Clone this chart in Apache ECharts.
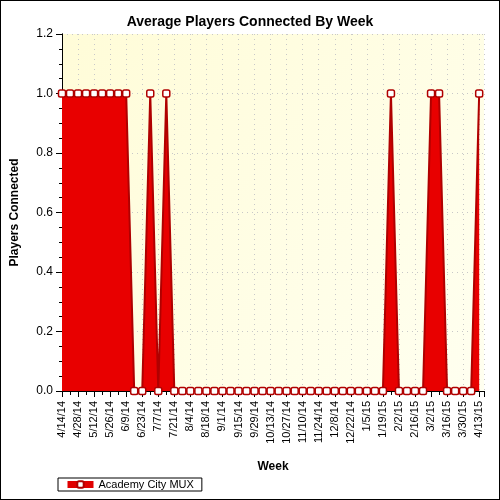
<!DOCTYPE html>
<html>
<head>
<meta charset="utf-8">
<script src="https://cdn.jsdelivr.net/npm/echarts@6/dist/echarts.min.js"></script>
<style>
  html, body { margin: 0; padding: 0; background: #fff; }
  #chart { width: 498px; height: 498px; border: 1px solid #000; }
</style>
</head>
<body>
<div id="chart"></div>
<script>
// weekly labels, 4/14/14 .. 4/13/15
const weeks = [
  '4/14/14', '4/21/14', '4/28/14', '5/5/14', '5/12/14', '5/19/14', '5/26/14', '6/2/14', '6/9/14',
  '6/16/14', '6/23/14', '6/30/14', '7/7/14', '7/14/14', '7/21/14', '7/28/14', '8/4/14', '8/11/14',
  '8/18/14', '8/25/14', '9/1/14', '9/8/14', '9/15/14', '9/22/14', '9/29/14', '10/6/14', '10/13/14',
  '10/20/14', '10/27/14', '11/3/14', '11/10/14', '11/17/14', '11/24/14', '12/1/14', '12/8/14',
  '12/15/14', '12/22/14', '12/29/14', '1/5/15', '1/12/15', '1/19/15', '1/26/15', '2/2/15', '2/9/15',
  '2/16/15', '2/23/15', '3/2/15', '3/9/15', '3/16/15', '3/23/15', '3/30/15', '4/6/15', '4/13/15'
]
const players = [
  1, 1, 1, 1, 1, 1, 1, 1, 1,
  0, 0, 1, 0, 1, 0, 0, 0, 0,
  0, 0, 0, 0, 0, 0, 0, 0, 0,
  0, 0, 0, 0, 0, 0, 0, 0,
  0, 0, 0, 0, 0, 0, 1, 0, 0,
  0, 0, 1, 1, 0, 0, 0, 0, 1
]
const yTicks = [0, 0.2, 0.4, 0.6, 0.8, 1.0, 1.2]

const font = 'Liberation Sans, Arial, sans-serif'
const chart = echarts.init(document.getElementById('chart'))

chart.setOption({
  animation: false,
  backgroundColor: '#fff',
  title: {
    text: 'Average Players Connected By Week',
    left: 'center',
    top: 9,
    textStyle: { fontFamily: font, fontSize: 14, fontWeight: 'bold', color: '#000' }
  },
  legend: {
    left: 57,
    top: 477,
    padding: [1, 8, 1, 6],
    itemGap: 5,
    itemWidth: 26,
    itemHeight: 8,
    borderColor: '#000',
    borderWidth: 1,
    borderRadius: 0,
    lineStyle: { color: '#e00000', width: 7 },
    textStyle: { fontFamily: font, fontSize: 11, color: '#000' },
    data: ['Academy City MUX']
  },
  grid: {
    left: 60, right: 15, top: 33, bottom: 108,
    show: true,
    borderWidth: 0,
    backgroundColor: new echarts.graphic.LinearGradient(0, 0, 1, 1, [
      { offset: 0, color: '#fffcd8' },
      { offset: 1, color: '#fffff0' }
    ])
  },
  xAxis: [
    {
      type: 'value',
      min: 0,
      max: 52.6,
      interval: 2,
      name: 'Week',
      nameLocation: 'middle',
      nameGap: 70,
      nameTextStyle: { fontFamily: font, fontSize: 12, fontWeight: 'bold', color: '#000' },
      axisLine: { onZero: false, lineStyle: { color: '#000', width: 1 } },
      axisTick: { length: 6, lineStyle: { color: '#000' } },
      minorTick: { show: true, splitNumber: 2, length: 3, lineStyle: { color: '#000' } },
      axisLabel: {
        rotate: 90,
        margin: 10,
        fontFamily: font,
        fontSize: 11,
        color: '#000',
        showMaxLabel: false,
        formatter: (v) => (Number.isInteger(v) ? weeks[v] : '')
      },
      splitLine: { show: true, lineStyle: { color: '#c8c8c8', type: [1, 4] } }
    },
    {
      type: 'value',
      position: 'top',
      min: 0,
      max: 52.6,
      interval: 1,
      axisLine: { lineStyle: { color: '#000', width: 1 } },
      axisTick: { inside: true, length: 4, lineStyle: { color: '#000' } },
      axisLabel: { show: false },
      splitLine: { show: false }
    }
  ],
  yAxis: [
    {
      type: 'value',
      min: 0,
      max: 1.2,
      interval: 0.2,
      name: 'Players Connected',
      nameLocation: 'middle',
      nameGap: 41,
      nameTextStyle: { fontFamily: font, fontSize: 12, fontWeight: 'bold', color: '#000' },
      axisLine: { show: true, lineStyle: { color: '#000', width: 1 } },
      axisTick: { show: true, length: 6, lineStyle: { color: '#000' } },
      minorTick: { show: true, splitNumber: 4, length: 3, lineStyle: { color: '#000' } },
      axisLabel: {
        fontFamily: font,
        fontSize: 12,
        color: '#000',
        margin: 9,
        formatter: (v) => yTicks.find((t) => Math.abs(t - v) < 1e-6).toFixed(1)
      },
      splitLine: { show: true, lineStyle: { color: '#c8c8c8', type: [1, 4] } }
    },
    {
      type: 'value',
      position: 'right',
      min: 0,
      max: 1.2,
      interval: 0.2,
      axisLine: { show: true, lineStyle: { color: '#000', width: 1 } },
      axisTick: { show: true, inside: true, length: 5, lineStyle: { color: '#000' } },
      minorTick: { show: true, splitNumber: 4, length: 3, lineStyle: { color: '#000' } },
      axisLabel: { show: false },
      splitLine: { show: false }
    }
  ],
  series: [
    {
      name: 'Academy City MUX',
      type: 'line',
      xAxisIndex: 0,
      yAxisIndex: 0,
      data: players.map((v, i) => [i, v]),
      symbol: 'roundRect',
      symbolSize: 7,
      showAllSymbol: true,
      clip: true,
      lineStyle: { color: '#b00000', width: 2 },
      itemStyle: { color: '#ffffff', borderColor: '#b00000', borderWidth: 1.5 },
      areaStyle: { color: '#e80000', opacity: 1 },
      z: 3
    }
  ]
})
</script>
</body>
</html>
